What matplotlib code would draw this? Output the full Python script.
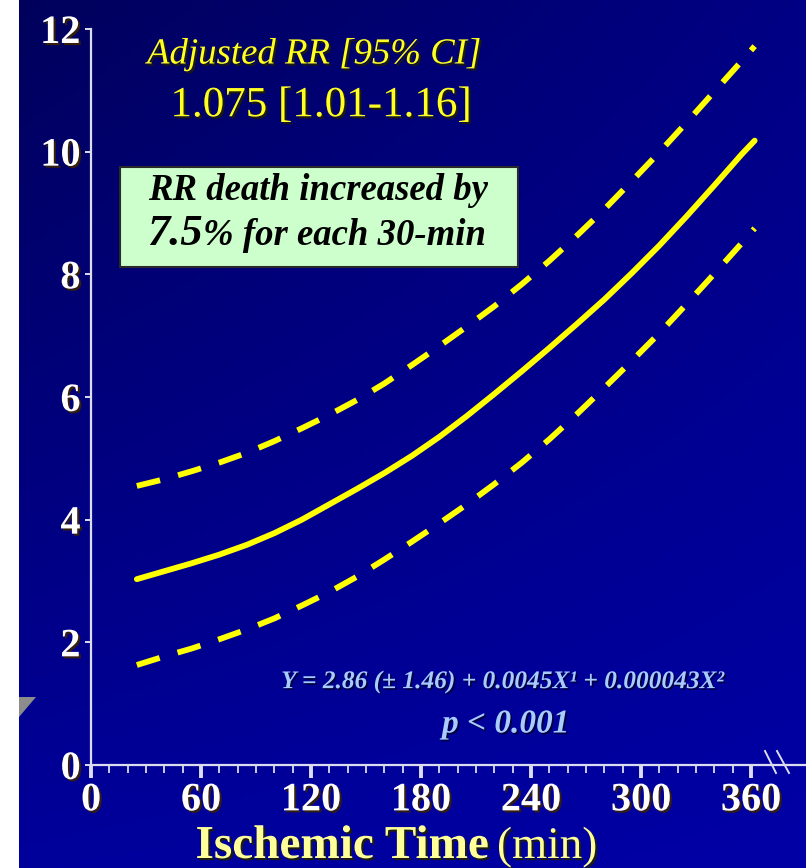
import numpy as np
import matplotlib
matplotlib.use("Agg")
import matplotlib.pyplot as plt
from matplotlib import patheffects as pe
from matplotlib.patches import Rectangle, Polygon
from matplotlib.lines import Line2D

# ---------------- data ----------------
time_min = [25, 40, 55, 70, 85, 100, 115, 130, 145, 160, 175, 190, 205, 220,
            235, 250, 265, 280, 295, 310, 325, 340, 355, 362]
rr_fit   = [3.03, 3.16, 3.29, 3.43, 3.59, 3.78, 4.00, 4.25, 4.50, 4.76, 5.04, 5.35,
            5.69, 6.05, 6.42, 6.80, 7.19, 7.59, 8.02, 8.47, 8.95, 9.45, 9.96, 10.18]
rr_upper = [4.55, 4.66, 4.79, 4.93, 5.09, 5.28, 5.49, 5.71, 5.95, 6.22, 6.52, 6.83,
            7.15, 7.48, 7.84, 8.22, 8.63, 9.06, 9.52, 9.99, 10.48, 10.98, 11.48, 11.72]
rr_lower = [1.63, 1.77, 1.90, 2.05, 2.21, 2.39, 2.60, 2.82, 3.07, 3.35, 3.64, 3.94,
            4.25, 4.58, 4.93, 5.31, 5.72, 6.15, 6.59, 7.04, 7.52, 8.01, 8.51, 8.75]
x_ticks = [0, 60, 120, 180, 240, 300, 360]
y_ticks = [0, 2, 4, 6, 8, 10, 12]

title_line1 = "Adjusted RR [95% CI]"
title_line2 = "1.075 [1.01-1.16]"
box_line1 = "RR death increased by"
box_big = "7.5"
box_rest = "% for each 30-min"
equation = "Y = 2.86 (\u00b1 1.46) + 0.0045X\u00b9 + 0.000043X\u00b2"
pvalue = "p < 0.001"
xlabel_bold = "Ischemic Time"
xlabel_reg = "(min)"

# ---------------- figure ----------------
W, H = 806, 868
fig = plt.figure(figsize=(W / 100, H / 100), dpi=100)
fig.patch.set_facecolor("white")
SERIF = ["Liberation Serif", "DejaVu Serif"]

def fx(px):
    return px / W

def fy(py):
    return 1 - py / H

# background gradient
bg = fig.add_axes([fx(19), 0, 1 - fx(19), 1])
bg.set_axis_off()
v = np.linspace(0, 1, 200)[:, None]
h = np.linspace(0, 1, 200)[None, :]
blue = 0.36 + 0.25 * v + 0.16 * h - 0.12 * v * h
img = np.zeros((200, 200, 3))
img[..., 2] = blue
bg.imshow(img, aspect="auto", extent=[0, 1, 0, 1], origin="upper")
bg.set_xlim(0, 1)
bg.set_ylim(0, 1)

# decorative grey triangle at left
tri = Polygon([[fx(19), fy(697)], [fx(36), fy(697)], [fx(19), fy(717)]],
              closed=True, transform=fig.transFigure, facecolor="#8c8c8c",
              edgecolor="none", zorder=5)
fig.patches.append(tri)

# main axes
ax = fig.add_axes([fx(91), fy(765), 1 - fx(91), (765 - 29) / H])
ax.patch.set_alpha(0)
ax.set_xlim(0, 390)
ax.set_ylim(0, 12)
for s in ["top", "right"]:
    ax.spines[s].set_visible(False)
axis_col = "#dcdcf0"
for s in ["left", "bottom"]:
    ax.spines[s].set_color(axis_col)
    ax.spines[s].set_linewidth(1.6)

ax.set_xticks(x_ticks)
ax.set_xticks([m for m in range(10, 360, 10) if m % 60 != 0], minor=True)
ax.set_yticks(y_ticks)
ax.tick_params(axis="x", which="major", direction="out", length=9.5, width=2.8,
               color=axis_col, pad=3, labelsize=29, labelcolor="white")
ax.tick_params(axis="x", which="minor", direction="out", length=5.5, width=1.3,
               color=axis_col)
ax.tick_params(axis="y", which="major", direction="out", length=4.5, width=1.4,
               color=axis_col, pad=3, labelsize=29, labelcolor="white")
shadow = [pe.withSimplePatchShadow(offset=(1.5, -1.5), shadow_rgbFace="#3a2200", alpha=0.9)]
for lab in ax.get_xticklabels() + ax.get_yticklabels():
    lab.set_fontfamily(SERIF)
    lab.set_fontweight("bold")
    lab.set_path_effects(shadow)

# curves
yel = "#ffff00"
ax.plot(time_min, rr_fit, color=yel, lw=4.2, solid_capstyle="round",
        solid_joinstyle="round", zorder=3)
ax.plot(time_min, rr_upper, color=yel, lw=4.2, dashes=(4.1, 3.2),
        dash_capstyle="butt", zorder=3)
ax.plot(time_min, rr_lower, color=yel, lw=4.2, dashes=(4.1, 3.2),
        dash_capstyle="butt", zorder=3)

# axis break mark
for (x0, y0, x1, y1) in [(765, 751, 776, 773), (777, 751, 789, 773)]:
    fig.add_artist(Line2D([fx(x0), fx(x1)], [fy(y0), fy(y1)], color=axis_col,
                          lw=1.4, transform=fig.transFigure))

# title texts
txt_shadow = [pe.withSimplePatchShadow(offset=(1.5, -1.5), shadow_rgbFace="#202000", alpha=0.9)]
fig.text(fx(314), fy(54), title_line1, ha="center", va="center", fontsize=26.5,
         style="italic", color="#ffff22", family=SERIF, path_effects=txt_shadow)
fig.text(fx(321), fy(106), title_line2, ha="center", va="center", fontsize=31,
         color="#ffff22", family=SERIF, path_effects=txt_shadow)

# green box
box = Rectangle((fx(120), fy(267)), fx(518) - fx(120), (267 - 167) / H,
                transform=fig.transFigure, facecolor="#ccffcc",
                edgecolor="#2a2a2a", lw=1.5, zorder=4)
fig.patches.append(box)
fig.text(fx(318), fy(191), box_line1, ha="center", va="center", fontsize=26.5,
         style="italic", weight="bold", color="black", family=SERIF, zorder=6)
renderer = fig.canvas.get_renderer()
t_big = fig.text(fx(147), fy(245), box_big, ha="left", va="baseline", fontsize=32,
                 style="italic", weight="bold", color="black", family=SERIF, zorder=6)
bb = t_big.get_window_extent(renderer)
fig.text(bb.x1 / W, fy(245), box_rest, ha="left", va="baseline", fontsize=26.5,
         style="italic", weight="bold", color="black", family=SERIF, zorder=6)

# equation and p value
eq_col = "#a8ccff"
eq_shadow = [pe.withSimplePatchShadow(offset=(1.2, -1.2), shadow_rgbFace="#000030", alpha=0.9)]
fig.text(fx(503), fy(682), equation, ha="center", va="center", fontsize=18.3,
         style="italic", weight="bold", color=eq_col, family=SERIF, path_effects=eq_shadow)
fig.text(fx(506), fy(724), pvalue, ha="center", va="center", fontsize=24,
         style="italic", weight="bold", color=eq_col, family=SERIF, path_effects=eq_shadow)

# x label (bold + regular)
xl_col = "#ffff99"
fig.text(fx(489), fy(858), xlabel_bold, ha="right", va="baseline", fontsize=34,
         weight="bold", color=xl_col, family=SERIF, path_effects=txt_shadow)
fig.text(fx(497), fy(858), xlabel_reg, ha="left", va="baseline", fontsize=32.5,
         color=xl_col, family=SERIF, path_effects=txt_shadow)

fig.savefig("out.png", dpi=100, facecolor=fig.get_facecolor())
